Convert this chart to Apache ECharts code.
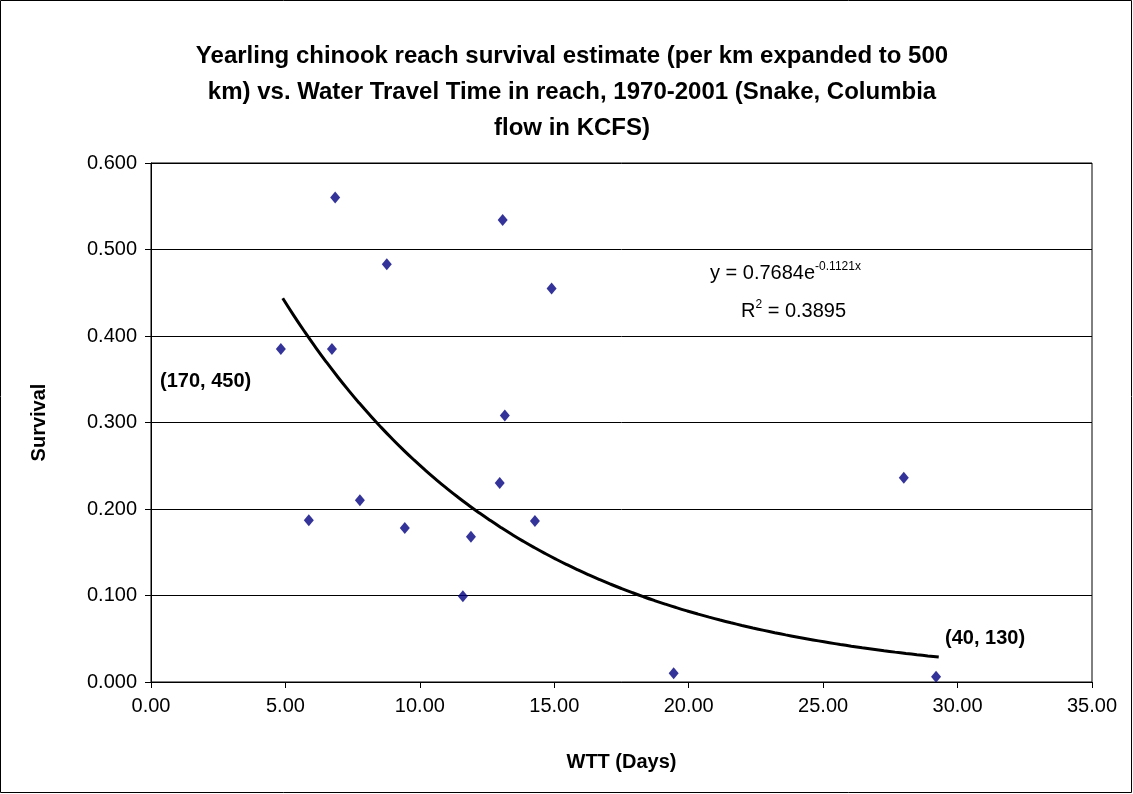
<!DOCTYPE html>
<html>
<head>
<meta charset="utf-8">
<script src="https://cdn.jsdelivr.net/npm/echarts@6/dist/echarts.min.js"></script>
<style>
html,body{margin:0;padding:0;background:#fff;}
#chart{width:1133px;height:794px;}
</style>
</head>
<body>
<div id="chart"></div>
<script>
var wttDays = [4.83, 5.87, 6.85, 6.73, 7.77, 8.77, 9.44, 11.6, 11.9, 12.97, 13.08, 13.16, 14.28, 14.9, 19.44, 28.0, 29.2];
var survival = [0.385, 0.187, 0.560, 0.385, 0.210, 0.483, 0.178, 0.099, 0.168, 0.230, 0.534, 0.308, 0.186, 0.455, 0.010, 0.236, 0.006];
var trendA = 0.7684, trendB = -0.1121;
var trendStart = 4.9, trendEnd = 29.3;

var points = wttDays.map(function (x, i) { return [x, survival[i]]; });
var trend = [];
for (var i = 0; i <= 60; i++) {
    var x = trendStart + (trendEnd - trendStart) * i / 60;
    trend.push([x, trendA * Math.exp(trendB * x)]);
}

var chart = echarts.init(document.getElementById('chart'));
var font = 'Liberation Sans, Arial, sans-serif';
chart.setOption({
    animation: false,
    title: {
        text: 'Yearling chinook reach survival estimate (per km expanded to 500\nkm) vs. Water Travel Time in reach, 1970-2001 (Snake, Columbia\nflow in KCFS)',
        left: 567, top: 33, textAlign: 'center',
        textStyle: {fontFamily: font, fontSize: 24, fontWeight: 'bold', color: '#000', lineHeight: 36}
    },
    grid: {left: 151, right: 41, top: 163, bottom: 112},
    xAxis: {
        type: 'value', min: 0, max: 35, interval: 5,
        name: 'WTT (Days)', nameLocation: 'middle', nameGap: 70,
        nameTextStyle: {fontFamily: font, fontSize: 20, fontWeight: 'bold', color: '#000'},
        axisLine: {lineStyle: {color: '#000'}},
        axisTick: {inside: false, length: 6, lineStyle: {color: '#000'}},
        axisLabel: {fontFamily: font, fontSize: 20, color: '#000', margin: 14, formatter: function (v) { return v.toFixed(2); }},
        splitLine: {show: false}
    },
    yAxis: {
        type: 'value', min: 0, max: 0.6, interval: 0.1,
        name: 'Survival', nameLocation: 'middle', nameGap: 102,
        nameTextStyle: {fontFamily: font, fontSize: 20, fontWeight: 'bold', color: '#000'},
        axisLine: {show: true, lineStyle: {color: '#000'}},
        axisTick: {show: true, length: 6, lineStyle: {color: '#000'}},
        axisLabel: {fontFamily: font, fontSize: 20, color: '#000', margin: 14, formatter: function (v) { return v.toFixed(3); }},
        splitLine: {lineStyle: {color: '#000', width: 1}}
    },
    graphic: [
        {type: 'rect', shape: {x: 0.5, y: 0.5, width: 1131, height: 792}, style: {fill: null, stroke: '#000', lineWidth: 1}},
        {type: 'rect', shape: {x: 151, y: 163, width: 941, height: 519}, style: {fill: null, stroke: '#000', lineWidth: 1}, z: 1},
        {type: 'text', left: 160, top: 371, style: {text: '(170, 450)', font: 'bold 20px ' + font, fill: '#000'}},
        {type: 'text', left: 945, top: 628, style: {text: '(40, 130)', font: 'bold 20px ' + font, fill: '#000'}},
        {type: 'text', left: 710, top: 261, style: {
            text: 'y = 0.7684e{s|-0.1121x}', font: '20px ' + font, fill: '#000',
            rich: {s: {fontSize: 12, padding: [0, 0, 12, 0]}}
        }},
        {type: 'text', left: 741, top: 299, style: {
            text: 'R{s|2} = 0.3895', font: '20px ' + font, fill: '#000',
            rich: {s: {fontSize: 12, padding: [0, 0, 12, 0]}}
        }}
    ],
    series: [{
        type: 'scatter', data: points, symbol: 'diamond', symbolSize: [10, 12],
        itemStyle: {color: '#000080'}
    }, {
        type: 'line', data: trend, showSymbol: false, smooth: true,
        lineStyle: {color: '#000', width: 3}
    }]
});
</script>
</body>
</html>
